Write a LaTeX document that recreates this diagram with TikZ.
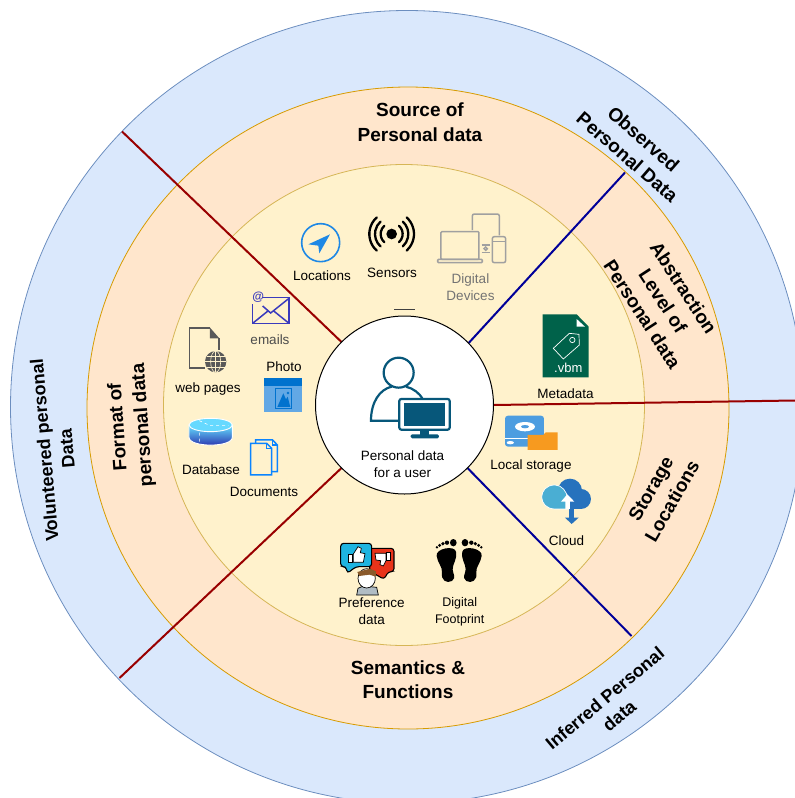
\documentclass[tikz,border=0pt]{standalone}
\usepackage{fontspec}
\setmainfont{Liberation Sans}
\usetikzlibrary{positioning,shapes.geometric}
\definecolor{blueband}{HTML}{DAE8FC}
\definecolor{blueedge}{HTML}{6C8EBF}
\definecolor{orangeband}{HTML}{FFE6CC}
\definecolor{orangeedge}{HTML}{D79B00}
\definecolor{creamband}{HTML}{FFF2CC}
\definecolor{creamedge}{HTML}{D6B656}
\definecolor{darkred}{HTML}{990000}
\definecolor{darknavy}{HTML}{000099}
\definecolor{userteal}{HTML}{07577A}
\definecolor{locblue}{HTML}{1E88E5}
\definecolor{devgray}{HTML}{A0A0A0}
\definecolor{mailblue}{HTML}{3A3ABD}
\definecolor{docblue}{HTML}{0A84FF}
\definecolor{metagreen}{HTML}{00624A}
\definecolor{photolight}{HTML}{62A8E5}
\definecolor{photodark}{HTML}{0072CE}
\definecolor{disklight}{HTML}{4D9DE0}
\definecolor{folderorange}{HTML}{F79A1F}
\definecolor{clouddark}{HTML}{2772BD}
\definecolor{cloudlight}{HTML}{4AAED3}
\definecolor{bubbleblue}{HTML}{1EB4E0}
\definecolor{bubblered}{HTML}{E8331A}
\definecolor{hairbrown}{HTML}{8A5A2B}
\definecolor{shirtgray}{HTML}{B0BCC4}
\tikzset{
  ring/.style={circle,draw,line width=.8pt,inner sep=0pt},
  redline/.style={draw=darkred,line width=2pt},
  navyline/.style={draw=darknavy,line width=2pt},
  small/.style={font=\fontsize{13.5}{16.6}\selectfont,align=center,inner sep=0pt},
  head/.style={font=\fontsize{19}{24.5}\selectfont\bfseries,align=center,inner sep=0pt},
  headb/.style={font=\fontsize{18}{22.5}\selectfont\bfseries,align=center,inner sep=0pt},
  icon/.style={x=.3333pt,y=-.3333pt},
}
\begin{document}
\begin{tikzpicture}[x=1pt,y=-1pt]
\clip (0,0) rectangle (795,798);
% rings
\node[ring,fill=blueband,draw=blueedge,minimum size=793pt] at (407,407) (outerdisc) {};
\node[ring,fill=orangeband,draw=orangeedge,minimum size=642pt] at (408,408) (middledisc) {};
\node[ring,fill=creamband,draw=creamedge,minimum size=481pt] at (404,405) (innerdisc) {};
% free ends of the spokes
\coordinate (endTL) at (122,131.5);
\coordinate (endTR) at (625,172.5);
\coordinate (endR) at (795,400.5);
\coordinate (endBR) at (631.5,636);
\coordinate (endBL) at (119.5,678);
\coordinate (dashL) at (394,309);
\coordinate (dashR) at (415,309);
\node[circle,minimum size=178pt,inner sep=0pt] at (404.5,405) (user) {};
\draw[redline] (user.135) -- (endTL);
\draw[navyline] (user.44) -- (endTR);
\draw[redline] (user.0) -- (endR);
\draw[navyline] (user.-45) -- (endBR);
\draw[redline] (user.225) -- (endBL);
\node[circle,draw=black,line width=1pt,fill=white,minimum size=178pt,inner sep=0pt] at (404.5,405) (usercircle) {};
\draw[black!75,line width=.9pt] (dashL) -- (dashR);
% ring titles
\node[head] at (420,122) (source) {Source of\\Personal data};
\node[head] at (408,679.5) (semantics) {Semantics \&\\Functions};
\node[head,rotate=94] at (131,426) (format) {Format of\\personal data};
\node[head,rotate=-57] at (663,301) (abstraction) {Abstraction\\Level of\\Personal data};
\node[head,rotate=60] at (661.5,495) (storage) {Storage\\Locations};
\node[head,rotate=-41] at (635.5,148) (observed) {Observed\\Personal Data};
\node[headb,rotate=95] at (55.5,449.5) (volunteered) {Volunteered personal\\Data};
\node[headb,rotate=40] at (612,707) (inferred) {Inferred Personal\\data};
% small labels
\node[small] at (322,276) (locations) {Locations};
\node[small] at (392,273) (sensors) {Sensors};
\node[small,text=black!55] at (470.5,287) (devices) {Digital\\Devices};
\node[small,text=black!70] at (270,339.5) (emails) {emails};
\node[small] at (208,389.5) (webpages) {web pages};
\node[small] at (284,366.5) (photo) {Photo};
\node[small] at (211,469.5) (database) {Database};
\node[small] at (264,491.5) (documents) {Documents};
\node[small] at (402.5,464) (userlabel) {Personal data\\for a user};
\node[small] at (565.5,393.5) (metadata) {Metadata};
\node[small] at (531,466) (localstorage) {Local storage};
\node[small] at (566.5,540.5) (cloud) {Cloud};
\node[small] at (371.7,611) (preference) {Preference\\data};
\node[small,font=\fontsize{12.5}{16.8}\selectfont] at (459.7,612) (footprint) {Digital\\Footprint};
% locations
\begin{scope}[shift={(280,200)},icon]
\draw[locblue,line width=1.6pt] (122,128) circle (57);
\fill[locblue] (150,103) -- (85,133) -- (115,137) -- (118,160) -- cycle;
\end{scope}
% sensors
\begin{scope}[shift={(280,200)},icon]
\fill (335,102) circle (16);
\foreach \r in {33,50,67} {
  \draw[line width=2.3pt,line cap=round] (335,102) ++(-48:\r) arc (-48:48:\r);
  \draw[line width=2.3pt,line cap=round] (335,102) ++(132:\r) arc (132:228:\r);
}
\end{scope}
% devices
\begin{scope}[shift={(280,200)},icon,devgray,line width=1.5pt]
\draw[rounded corners=2pt] (577,90) -- (577,42) -- (658,42) -- (658,106);
\draw[rounded corners=1pt] (483,95) rectangle (597,178);
\draw[rounded corners=1pt] (473,178) rectangle (607,188);
\draw[rounded corners=2pt] (637,110) rectangle (677,188);
\draw (637,125) -- (677,125);
\draw (605,135) -- (630,135) (605,157) -- (630,157);
\draw (617,146) circle (5);
\end{scope}
% emails
\begin{scope}[shift={(160,280)},icon,mailblue,line width=1.5pt]
\draw (305,53) -- (387,53) -- (387,130) -- (278,130) -- (278,72);
\draw (278,130) -- (325,92) (387,130) -- (340,92);
\draw (308,78) -- (332,99) -- (387,55);
\node[font=\fontsize{12}{12}\selectfont\bfseries,text=mailblue,inner sep=0pt] at (295,51) (atsign) {@};
\end{scope}
% web pages
\begin{scope}[shift={(160,280)},icon,black!65]
\draw[line width=1.5pt] (150,144) -- (88,144) -- (88,264) -- (135,264);
\draw[line width=1.5pt] (177,175) -- (177,210);
\fill (150,143) -- (178,175) -- (150,175) -- cycle;
\fill (167,245) circle (32);
\draw[creamband,line width=.6pt] (167,213) -- (167,277) (135,245) -- (199,245) (140,228) -- (194,228) (140,262) -- (194,262);
\draw[creamband,line width=.6pt] (167,245) ellipse (15 and 32);
\end{scope}
% photo
\begin{scope}[shift={(160,280)},icon]
\fill[photolight] (313,293) rectangle (427,397);
\fill[photodark] (313,293) rectangle (427,318);
\draw[photodark,line width=.8pt] (347,326) rectangle (395,386);
\fill[photodark] (352,381) -- (370,340) -- (378,358) -- (383,350) -- (391,381) -- cycle;
\fill[photodark] (384,339) circle (4);
\end{scope}
% database
\begin{scope}[shift={(160,280)},icon]
\shade[top color=blue!20!cyan!60!white,bottom color=blue!60!black!85!white,draw=white,line width=.9pt] (87,435) -- (87,472) .. controls (87,503) and (217,503) .. (217,472) -- (217,435) -- cycle;
\fill[blue!25!cyan!60!white,draw=white,line width=.9pt] (152,435) ellipse (65 and 20);
\draw[white,line width=.6pt,dashed] (118,422) -- (150,437) -- (205,437) (118,458) -- (118,492);
\end{scope}
% documents
\begin{scope}[shift={(160,280)},icon,docblue,line width=1.5pt]
\draw (287,490) -- (287,480) -- (338,480) -- (352,495) -- (352,575) -- (335,575);
\draw (338,480) -- (338,495) -- (352,495);
\draw (272,490) -- (320,490) -- (335,505) -- (335,585) -- (272,585) -- cycle;
\draw (320,490) -- (320,505) -- (335,505);
\end{scope}
% user
\begin{scope}[shift={(320,330)},icon,userteal,line width=2.2pt]
\draw (236,128) circle (45);
\draw (240,272) -- (153,272) .. controls (153,215) and (180,178) .. (215,170);
\draw (258,170) .. controls (280,175) and (298,190) .. (307,205);
\draw[fill=white,rounded corners=2pt] (238,207) rectangle (389,299);
\fill (253,220) rectangle (375,287);
\fill (300,299) rectangle (328,315);
\fill[rounded corners=1.5pt] (272,313) rectangle (357,325);
\end{scope}
% metadata
\begin{scope}[shift={(480,300)},icon]
\fill[metagreen] (188,43) -- (290,43) -- (326,80) -- (326,232) -- (188,232) -- cycle;
\fill[white] (290,57) -- (315,80) -- (290,80) -- cycle;
\draw[white,line width=.7pt] (220,145) -- (268,100) -- (297,103) -- (298,135) -- (250,177) -- cycle;
\draw[white,line width=.7pt] (277,120) circle (8);
\node[font=\fontsize{13}{13}\selectfont,text=white,inner sep=0pt] at (265,203) (vbm) {.vbm};
\end{scope}
% local storage
\begin{scope}[shift={(480,300)},icon]
\fill[disklight,rounded corners=3pt] (75,347) rectangle (192,440);
\fill[white] (135,380) ellipse (30 and 14);
\fill[disklight] (135,380) ellipse (12 and 5);
\fill[white] (75,413) rectangle (192,417);
\fill[white] (91,428) ellipse (11 and 5);
\fill[folderorange] (143,450) -- (143,405) -- (190,405) -- (197,397) -- (233,397) -- (233,450) -- cycle;
\end{scope}
% cloud
\begin{scope}[shift={(480,300)},icon]
\fill[clouddark] (270,572) circle (36);
\fill[clouddark] (303,597) circle (30);
\fill[clouddark] (262,590) rectangle (303,627);
\fill[cloudlight,draw=white,line width=.7pt] (262,627) -- (225,627) .. controls (172,627) and (172,555) .. (225,555) .. controls (245,555) and (262,575) .. (262,595) -- cycle;
\fill[white] (262,583) -- (243,605) -- (256,605) -- (256,628) -- (270,628) -- (270,605) -- (283,605) -- cycle;
\fill[clouddark] (268,628) rectangle (282,653);
\fill[clouddark] (255,653) -- (296,653) -- (275,672) -- cycle;
\end{scope}
% preference
\begin{scope}[shift={(320,530)},icon,line width=1.1pt]
\draw[fill=bubblered,rounded corners=3pt] (145,55) -- (222,55) -- (222,125) -- (205,125) -- (192,148) -- (170,135) -- (150,125) -- cycle;
\draw[fill=bubbleblue,rounded corners=3pt] (62,40) -- (155,40) -- (155,110) -- (108,110) -- (82,130) -- (78,110) -- (62,110) -- cycle;
\draw[fill=white,line width=.7pt] (85,72) rectangle (98,98);
\draw[fill=white,line width=.7pt] (100,72) -- (114,50) -- (124,55) -- (121,68) -- (135,71) -- (130,97) -- (100,97) -- cycle;
\draw[fill=white,line width=.7pt] (165,70) -- (198,70) -- (198,92) -- (190,108) -- (180,104) -- (182,92) -- (168,90) -- cycle;
\draw[fill=white,line width=.7pt] (200,68) rectangle (212,92);
\draw[fill=shirtgray,line width=.7pt] (110,195) -- (114,175) -- (130,168) -- (170,172) -- (175,195) -- cycle;
\draw[fill=white,line width=.7pt] (140,145) ellipse (26 and 29);
\fill[hairbrown] (112,126) -- (150,116) -- (168,124) -- (168,140) -- (148,134) -- (118,138) -- cycle;
\end{scope}
% footprint
\begin{scope}[shift={(320,530)},icon]
\foreach \m/\a in {1/0,-1/835} {
  \begin{scope}[shift={(\a,0)},xscale=\m]
  \fill (350,78) .. controls (346,55) and (404,45) .. (408,65) .. controls (412,90) and (398,100) .. (398,118) .. controls (398,130) and (410,142) .. (396,153) .. controls (380,162) and (362,150) .. (366,128) .. controls (368,110) and (353,100) .. (350,78) -- cycle;
  \fill (351,52) circle (4);
  \fill (359,46) circle (5);
  \fill (369,41) circle (5.5);
  \fill (381,38) circle (6.5);
  \fill (400,38) ellipse (10 and 11);
  \end{scope}
}
\end{scope}
\end{tikzpicture}
\end{document}
